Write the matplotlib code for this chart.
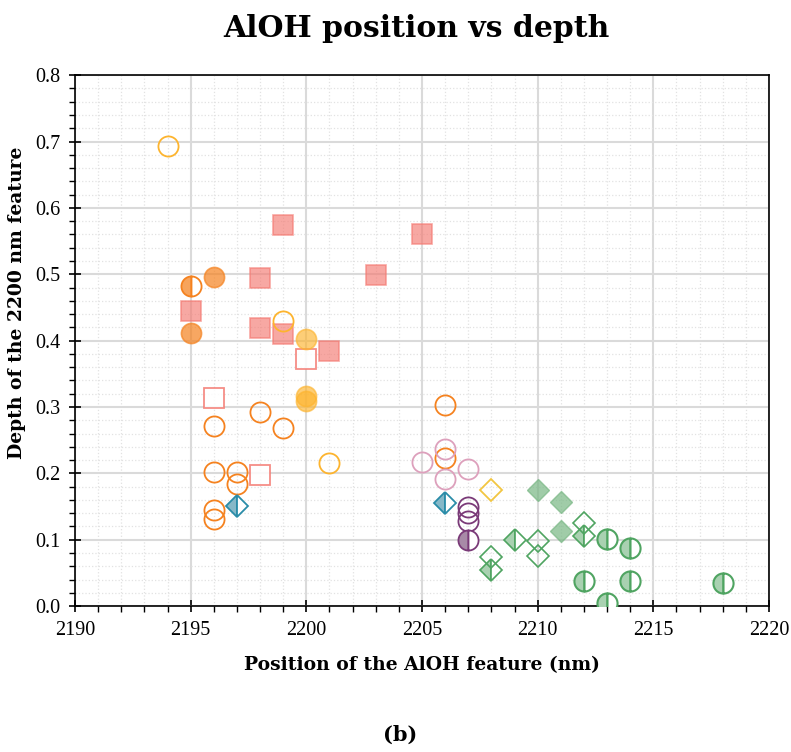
import matplotlib.pyplot as plt
from matplotlib.ticker import MultipleLocator, FormatStrFormatter

plt.rcParams['font.family'] = ['Liberation Serif', 'DejaVu Serif']

# orange samples
orange_open_x = [2196, 2196, 2196, 2196, 2197, 2197, 2198, 2199, 2206, 2206]
orange_open_y = [0.272, 0.202, 0.145, 0.132, 0.202, 0.184, 0.293, 0.269, 0.303, 0.223]
orange_fill_x = [2195, 2196]
orange_fill_y = [0.412, 0.496]
orange_half_x = [2195]
orange_half_y = [0.482]

# yellow samples
yellow_open_x = [2194, 2199, 2201]
yellow_open_y = [0.694, 0.429, 0.215]
yellow_fill_x = [2200, 2200, 2200]
yellow_fill_y = [0.402, 0.316, 0.309]
yellow_diam_x = [2208]
yellow_diam_y = [0.175]

# salmon squares
salmon_fill_x = [2195, 2198, 2198, 2199, 2199, 2201, 2203, 2205]
salmon_fill_y = [0.444, 0.494, 0.419, 0.575, 0.410, 0.385, 0.499, 0.560]
salmon_open_x = [2196, 2198, 2200]
salmon_open_y = [0.314, 0.198, 0.372]

# teal diamonds
teal_half_x = [2197, 2206]
teal_half_y = [0.151, 0.156]

# pink / purple circles
pink_open_x = [2205, 2206, 2206, 2207]
pink_open_y = [0.217, 0.237, 0.192, 0.206]
purple_open_x = [2207, 2207, 2207]
purple_open_y = [0.149, 0.140, 0.129]
purple_half_x = [2207]
purple_half_y = [0.099]

# green samples
green_dfill_x = [2210, 2211, 2211]
green_dfill_y = [0.175, 0.157, 0.113]
green_dhalf_x = [2208, 2209, 2212]
green_dhalf_y = [0.055, 0.099, 0.105]
green_dopen_x = [2208, 2210, 2210, 2212]
green_dopen_y = [0.074, 0.098, 0.076, 0.125]
green_chalf_x = [2212, 2213, 2213, 2214, 2214, 2218]
green_chalf_y = [0.038, 0.101, 0.005, 0.087, 0.038, 0.035]

ORANGE = '#F5821F'
YELLOW = '#FDB42E'
SALMON = '#F47A72'
TEAL = '#2A8CA8'
PINK = '#DDA0BC'
PURPLE = '#7A3A78'
YELLOWD = '#F2C641'
GREEN = '#4FA461'

fig = plt.figure(figsize=(7.91, 7.52), dpi=100)
ax = fig.add_axes([0.0948, 0.194, 0.8774, 0.706])

cs = 14.5   # circle size
ss = 15     # square size
ds = 10.8   # diamond size

def pts(x, y, **kw):
    ax.plot(x, y, linestyle='none', zorder=3, **kw)

pts(salmon_fill_x, salmon_fill_y, marker='s', ms=ss, color=SALMON, alpha=0.65, mew=1.2)
pts(salmon_open_x, salmon_open_y, marker='s', ms=ss, mfc='white', mec=SALMON, alpha=0.85, mew=1.3)
pts(orange_fill_x, orange_fill_y, marker='o', ms=cs, color=ORANGE, alpha=0.7, mew=1.2)
pts(orange_half_x, orange_half_y, marker='o', ms=cs, mfc='#F7A45C', mfcalt='white', fillstyle='left', mec=ORANGE, mew=1.3)
pts(orange_open_x, orange_open_y, marker='o', ms=cs, mfc='none', mec=ORANGE, mew=1.3)
pts(yellow_fill_x, yellow_fill_y, marker='o', ms=cs, color=YELLOW, alpha=0.65, mew=1.2)
pts(yellow_open_x, yellow_open_y, marker='o', ms=cs, mfc='none', mec=YELLOW, mew=1.3)
pts(yellow_diam_x, yellow_diam_y, marker='D', ms=ds, mfc='none', mec=YELLOWD, mew=1.3)
pts(teal_half_x, teal_half_y, marker='D', ms=ds, mfc='#86B8C8', mfcalt='white', fillstyle='left', mec=TEAL, mew=1.3)
pts(pink_open_x, pink_open_y, marker='o', ms=cs, mfc='none', mec=PINK, mew=1.3)
pts(purple_open_x, purple_open_y, marker='o', ms=cs, mfc='none', mec=PURPLE, mew=1.3)
pts(purple_half_x, purple_half_y, marker='o', ms=cs, mfc='#A88AA7', mfcalt='white', fillstyle='left', mec=PURPLE, mew=1.3)
pts(green_dfill_x, green_dfill_y, marker='D', ms=ds, color='#78B784', alpha=0.7, mew=1.0)
pts(green_dhalf_x, green_dhalf_y, marker='D', ms=ds, mfc='#A9D1B1', mfcalt='white', fillstyle='left', mec=GREEN, mew=1.2)
pts(green_dopen_x, green_dopen_y, marker='D', ms=ds, mfc='none', mec=GREEN, mew=1.2)
pts(green_chalf_x, green_chalf_y, marker='o', ms=cs, mfc='#A9D1B1', mfcalt='white', fillstyle='left', mec=GREEN, mew=1.5)

ax.set_xlim(2190, 2220)
ax.set_ylim(0, 0.8)
ax.xaxis.set_major_locator(MultipleLocator(5))
ax.xaxis.set_minor_locator(MultipleLocator(1))
ax.yaxis.set_major_locator(MultipleLocator(0.1))
ax.yaxis.set_minor_locator(MultipleLocator(0.02))
ax.yaxis.set_major_formatter(FormatStrFormatter('%.1f'))

ax.grid(which='major', color='#DADADA', linewidth=1.5, zorder=0)
ax.grid(which='minor', color='#E2E2E2', linewidth=0.9, linestyle=':', zorder=0)
ax.set_axisbelow(True)

ax.tick_params(which='major', direction='inout', length=9, width=1.2, labelsize=14.5, pad=6)
ax.tick_params(which='minor', direction='out', length=4, width=1.0)
ax.tick_params(top=False, right=False)
for s in ax.spines.values():
    s.set_linewidth(1.2)

ax.set_xlabel('Position of the AlOH feature (nm)', fontsize=13.5, fontweight='bold',
              family='DejaVu Serif', labelpad=12)
ax.set_ylabel('Depth of the 2200 nm feature', fontsize=13.5, fontweight='bold',
              family='DejaVu Serif')
ax.yaxis.set_label_coords(-0.07, 0.572)
fig.text(0.527, 0.962, 'AlOH position vs depth', ha='center', va='center', fontsize=21.5,
         fontweight='bold', family='DejaVu Serif')
fig.text(0.506, 0.023, '(b)', ha='center', va='center', fontsize=15, fontweight='bold',
         family='DejaVu Serif')

fig.savefig('out.png', dpi=100)
